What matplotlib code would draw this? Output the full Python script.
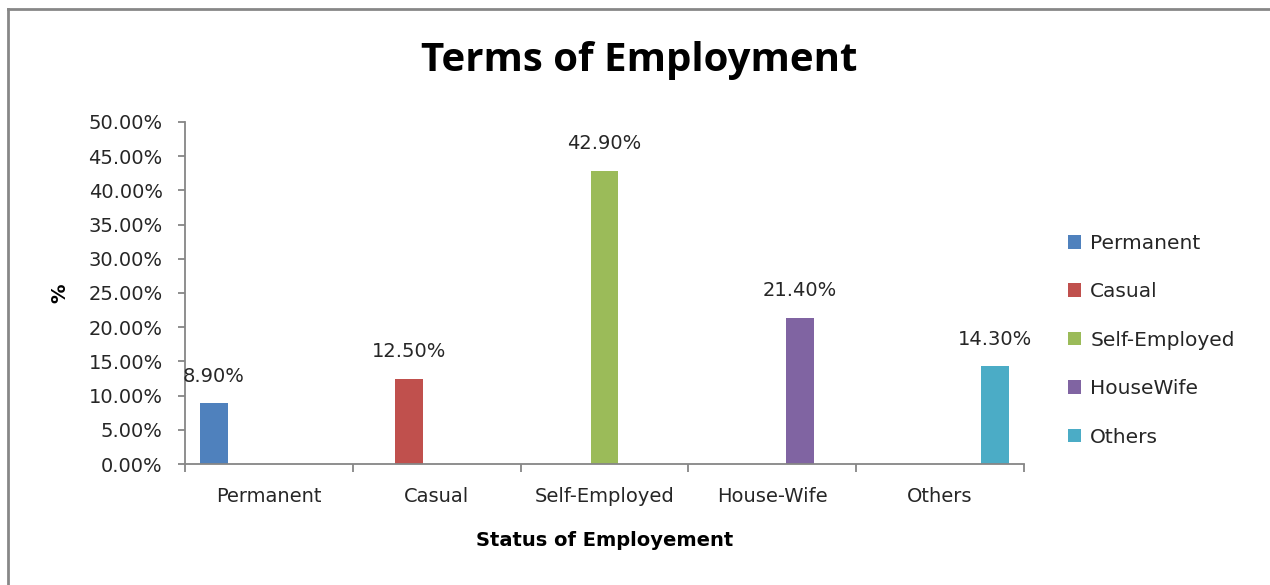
import matplotlib.pyplot as plt
import numpy as np
from matplotlib.lines import Line2D
from matplotlib.ticker import FixedLocator, PercentFormatter

categories = ["Permanent", "Casual", "Self-Employed", "House-Wife", "Others"]
series_names = ["Permanent", "Casual", "Self-Employed", "HouseWife", "Others"]
values = [8.9, 12.5, 42.9, 21.4, 14.3]
colors = ["#4F81BD", "#C0504D", "#9BBB59", "#8064A2", "#4BACC6"]

plt.rcParams["font.family"] = ["DejaVu Sans"]

fig = plt.figure(figsize=(12.7, 5.85), dpi=100)
ax = fig.add_axes([185 / 1270, 121 / 585, 839 / 1270, 342 / 585])

n = len(categories)
x = np.arange(n)
w = 0.164
text_col = "#262626"
axis_col = "#868686"
fs = 14

# clustered layout: each series sits in its own slot in every category
for j, (name, color) in enumerate(zip(series_names, colors)):
    heights = [values[i] if i == j else 0 for i in range(n)]
    pos = x + (j - (n - 1) / 2) * w
    ax.bar(pos, heights, width=w, color=color, label=name, zorder=2)
    ax.annotate(f"{values[j]:.2f}%", (pos[j], values[j]),
                xytext=(0, 19.5), textcoords="offset points",
                ha="center", va="center", fontsize=fs, color=text_col)

ax.set_xlim(-0.5, n - 0.5)
ax.set_ylim(0, 50)
ax.yaxis.set_major_locator(FixedLocator(np.arange(0, 51, 5)))
ax.yaxis.set_major_formatter(PercentFormatter(decimals=2))

ax.xaxis.set_major_locator(FixedLocator(np.arange(-0.5, n, 1)))
ax.xaxis.set_minor_locator(FixedLocator(x))
ax.set_xticklabels([], minor=False)
ax.set_xticklabels(categories, minor=True)
ax.tick_params(axis="x", which="major", length=6, color=axis_col, width=1.3)
ax.tick_params(axis="x", which="minor", length=0, pad=16.5,
               labelsize=fs, labelcolor=text_col)
ax.tick_params(axis="y", length=5, color=axis_col, width=1.3,
               labelsize=fs, labelcolor=text_col, pad=11)

for side in ("top", "right"):
    ax.spines[side].set_visible(False)
for side in ("left", "bottom"):
    ax.spines[side].set_color(axis_col)
    ax.spines[side].set_linewidth(1.3)

ax.set_ylabel("%", fontsize=14, fontweight="bold", labelpad=14)
ax.set_xlabel("Status of Employement", fontsize=14, fontweight="bold",
              labelpad=18)

fig.text(0.503, 0.897, "Terms of Employment", ha="center", va="center",
         fontsize=29, fontweight="bold", color="black",
         family=["Open Sans", "DejaVu Sans"])

ax.legend(loc="center left", bbox_to_anchor=(1.031, 0.362), frameon=False,
          fontsize=14.5, handlelength=0.65, handleheight=0.65,
          handletextpad=0.45, labelspacing=1.46, labelcolor=text_col)

# chart border on the left and top edges
fig.add_artist(Line2D([8 / 1270, 8 / 1270], [0, 1 - 9 / 585],
                      transform=fig.transFigure, color="#878787", lw=2))
fig.add_artist(Line2D([8 / 1270, 1], [1 - 9 / 585, 1 - 9 / 585],
                      transform=fig.transFigure, color="#878787", lw=2))

fig.savefig("out.png", dpi=100)
